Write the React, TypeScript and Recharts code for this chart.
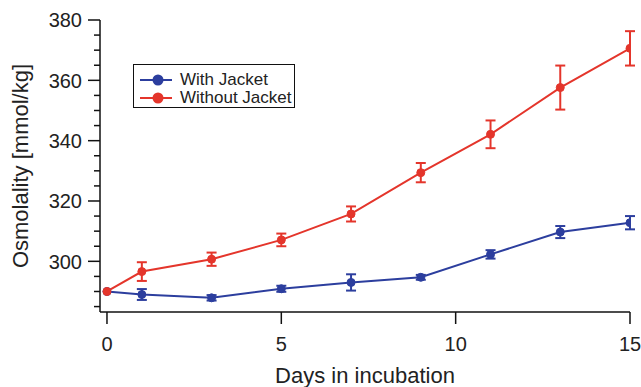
import React from 'react';
import { LineChart, Line, XAxis, YAxis, ErrorBar, Legend } from 'recharts';

const days = [0, 1, 3, 5, 7, 9, 11, 13, 15];
const withJacket = [290, 289.0, 287.9, 290.9, 293.0, 294.7, 302.3, 309.7, 312.8];
const withJacketErr = [0, 1.8, 0.9, 1.0, 2.7, 0.8, 1.4, 2.0, 2.2];
const withoutJacket = [290, 296.6, 300.7, 307.1, 315.7, 329.4, 342.1, 357.6, 370.6];
const withoutJacketErr = [0, 3.1, 2.2, 2.1, 2.5, 3.2, 4.6, 7.3, 5.7];

const xTicks = [0, 5, 10, 15];
const yTicks = [285, 290, 295, 300, 305, 310, 315, 320, 325, 330, 335, 340, 345, 350, 355, 360, 365, 370, 375, 380];
const yMajor = [300, 320, 340, 360, 380];

const BLUE = '#2c3e9e';
const RED = '#e4352b';
const FONT = '"Liberation Sans", Arial, sans-serif';

const data = days.map((d, i) => ({
  day: d,
  with: withJacket[i],
  withErr: withJacketErr[i],
  without: withoutJacket[i],
  withoutErr: withoutJacketErr[i],
}));

const YTick = (props: any) => {
  const { x, y, payload } = props;
  const major = yMajor.includes(payload.value);
  return (
    <g>
      <line x1={x - (major ? 12 : 6)} x2={x} y1={y} y2={y} stroke="#111" strokeWidth={1.5} />
      {major && (
        <text x={x - 18} y={y} dy="0.36em" textAnchor="end" fontSize={20} fontFamily={FONT} fill="#222">
          {payload.value}
        </text>
      )}
    </g>
  );
};

const renderLegend = () => (
  <div style={{ width: 160, height: 42, border: '1.5px solid #111', background: '#fff', position: 'relative' }}>
    {[
      { name: 'With Jacket', color: BLUE },
      { name: 'Without Jacket', color: RED },
    ].map((item, i) => (
      <div key={item.name} style={{ position: 'absolute', left: 0, top: 6 + i * 17.5, height: 18, display: 'flex', alignItems: 'center' }}>
        <svg width={46} height={18}>
          <line x1={6} x2={38} y1={9} y2={9} stroke={item.color} strokeWidth={2} />
          <circle cx={24} cy={9} r={5.5} fill={item.color} />
        </svg>
        <span style={{ fontFamily: FONT, fontSize: 17, color: '#222', lineHeight: '18px' }}>{item.name}</span>
      </div>
    ))}
  </div>
);

const App = () => {
  return (
    <div style={{ position: 'absolute', left: 0, top: 0 }}>
      <LineChart width={641} height={387} data={data} margin={{ top: 20, right: 11, left: 0, bottom: 0 }}>
        <XAxis
          dataKey="day"
          type="number"
          domain={[-0.2, 15]}
          ticks={xTicks}
          interval={0}
          allowDataOverflow
          height={75}
          tickSize={12}
          tickMargin={13}
          stroke="#111"
          strokeWidth={1.5}
          tick={{ fontSize: 20, fontFamily: FONT, fill: '#222' }}
          label={{ value: 'Days in incubation', position: 'insideBottom', offset: 4, fontSize: 22, fontFamily: FONT, fill: '#222' }}
        />
        <YAxis
          type="number"
          domain={[283.2, 380]}
          ticks={yTicks}
          interval={0}
          allowDataOverflow
          width={100}
          tickSize={0}
          tickMargin={0}
          tickLine={false}
          stroke="#111"
          strokeWidth={1.5}
          tick={<YTick />}
          label={{ value: 'Osmolality [mmol/kg]', angle: -90, position: 'insideLeft', offset: 20, fontSize: 22, fontFamily: FONT, fill: '#222', style: { textAnchor: 'middle' } }}
        />
        <Legend
          layout="vertical"
          align="center"
          verticalAlign="middle"
          content={renderLegend}
          wrapperStyle={{ left: 133, top: 64, width: 164, height: 46 }}
        />
        <Line
          type="linear"
          dataKey="with"
          name="With Jacket"
          stroke={BLUE}
          strokeWidth={2}
          dot={{ r: 4, fill: BLUE, stroke: BLUE, strokeWidth: 1 }}
          isAnimationActive={false}
        >
          <ErrorBar dataKey="withErr" width={5} stroke={BLUE} strokeWidth={2} direction="y" isAnimationActive={false} />
        </Line>
        <Line
          type="linear"
          dataKey="without"
          name="Without Jacket"
          stroke={RED}
          strokeWidth={2}
          dot={{ r: 4, fill: RED, stroke: RED, strokeWidth: 1 }}
          isAnimationActive={false}
        >
          <ErrorBar dataKey="withoutErr" width={5} stroke={RED} strokeWidth={2} direction="y" isAnimationActive={false} />
        </Line>
      </LineChart>
    </div>
  );
};

export default App;
